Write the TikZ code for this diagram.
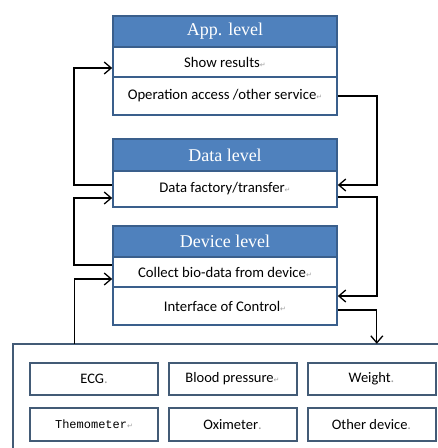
\documentclass[tikz,border=0pt]{standalone}
\usepackage{fontspec}
\setmainfont{Carlito}
\newfontfamily\headfont{Liberation Serif}
\newfontfamily\mymono{Liberation Mono}
\newfontfamily\symfont{DejaVu Sans}
\usetikzlibrary{arrows.meta}
\definecolor{hdrblue}{HTML}{4F81BD}
\definecolor{bordblue}{HTML}{3A5F8C}
\definecolor{slate}{HTML}{435B76}
\definecolor{markgray}{HTML}{A0A0A0}
\newcommand{\pmark}{\textcolor{markgray}{\symfont\fontsize{7}{7}\selectfont ↵}}
\newcommand{\dmark}{\textcolor{markgray}{.}}
\tikzset{
  hdrbox/.style={draw=bordblue, line width=1.6pt, fill=hdrblue, text=white,
    minimum width=224pt, inner sep=0pt, font=\headfont\fontsize{18}{18}\selectfont},
  rowbox/.style={draw=bordblue, line width=1.6pt, fill=white,
    minimum width=224pt, inner sep=0pt, font=\fontsize{14.7}{14.7}\selectfont},
  devbox/.style={draw=slate, line width=2pt, fill=white,
    minimum width=128pt, minimum height=32pt, inner sep=0pt, font=\fontsize{14.5}{14.5}\selectfont},
  bigline/.style={draw=slate, line width=2pt},
  conn/.style={draw=black, line width=1.3pt, -{Straight Barb[length=7pt,width=12pt]}}
}
\begin{document}
\begin{tikzpicture}[x=1pt,y=-1pt]
\useasboundingbox (0,0) rectangle (438,448);
\fill[white] (0,0) rectangle (438,448);

% Devices container (its right and bottom sides lie beyond the page edge)
\node[draw=none, minimum width=425pt, minimum height=104pt, inner sep=0pt] (devices) at (225.5,396) {};
\draw[bigline] (devices.north east) -- (devices.north west) -- (devices.south west);

% App level
\node[hdrbox, minimum height=31pt] (apphead) at (225,31.5) {App. level};
\node[rowbox, minimum height=30pt] (showres) at (225,62) {Show results\pmark};
\node[rowbox, minimum height=38pt] (opacc) at (225,96) {Operation access /other service\pmark};

% Data level
\node[hdrbox, minimum height=32pt] (datahead) at (225,155) {Data level};
\node[rowbox, minimum height=36pt] (datafac) at (225,189) {Data factory/transfer\pmark};

% Device level
\node[hdrbox, minimum height=31pt] (devhead) at (225,241.5) {Device level};
\node[rowbox, minimum height=30pt] (collect) at (225,272) {Collect bio-data from device\pmark};
\node[rowbox, minimum height=38pt] (iface) at (225,306) {Interface of Control\pmark};

\node[devbox] (ecg) at (94,379) {ECG\dmark};
\node[devbox] (bp) at (232.5,379) {Blood pressure\pmark};
\node[devbox] (weight) at (371.5,379) {Weight\dmark};
\node[devbox, minimum height=33pt, font=\mymono\fontsize{12}{12}\selectfont] (thermo) at (94,424.5) {Themometer\pmark};
\node[devbox, minimum height=33pt] (oxi) at (232.5,424.5) {Oximeter\dmark};
\node[devbox, minimum height=33pt] (other) at (371.5,424.5) {Other device\dmark};

% Left connectors
\draw[conn] ([yshift=4pt]datafac.west) -| (74,68) -- ([yshift=-6pt]showres.west);
\draw[conn] ([yshift=7pt]collect.west) -| (74,198) -- ([yshift=-9pt]datafac.west);
\draw[conn] ([xshift=62pt]devices.north west) |- ([yshift=-7pt]collect.west);

% Right connectors
\draw[conn] (opacc.east) -| (377,185) -- ([yshift=4pt]datafac.east);
\draw[conn] ([yshift=-8pt]datafac.east) -| (377,296) -- ([yshift=10pt]iface.east);
\draw[conn] ([yshift=-4pt]iface.east) -| ([xshift=364pt]devices.north west);
\end{tikzpicture}
\end{document}
